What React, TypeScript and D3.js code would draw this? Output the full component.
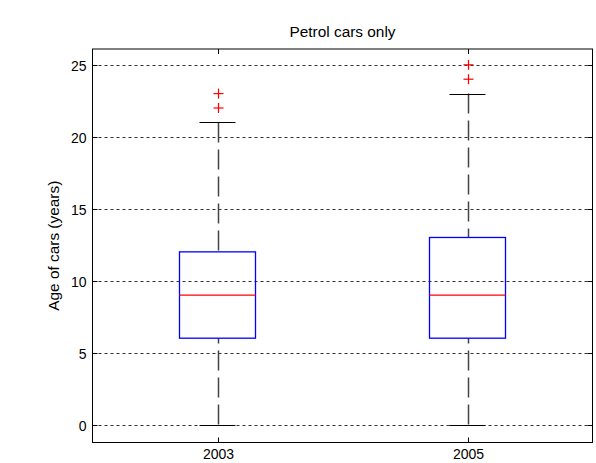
import React from "react";
import * as d3 from "d3";

// Box plot summary per survey year
const years = ["2003", "2005"];
const whiskerLow = [0, 0];
const q1 = [6, 6];
const median = [9, 9];
const q3 = [12, 13];
const whiskerHigh = [21, 23];
const outliers = [
  [22, 23],
  [24, 25],
];
const yTicks = [0, 5, 10, 15, 20, 25];

const W = 596;
const H = 463;
const frame = { left: 92.5, right: 592.5, top: 49, bottom: 442.5 };
const FONT = "Arial, 'Liberation Sans', Helvetica, sans-serif";

export default function App() {
  const x = d3.scaleLinear().domain([0.5, 2.5]).range([frame.left, frame.right]);
  const y = d3.scaleLinear().domain([-1.25, 26.1]).range([frame.bottom, frame.top]);
  const boxHalf = 0.152;
  const capHalf = 0.072;
  const tick = 5;
  const fs = 14;
  const labelFs = 15.4;

  return (
    <svg
      width={W}
      height={H}
      style={{ position: "absolute", left: 0, top: 0, background: "#fff" }}
      fontFamily={FONT}
    >
      <rect x={0} y={0} width={W} height={H} fill="#fff" />
      {/* horizontal grid */}
      {yTicks.map((t) => (
        <line
          key={"g" + t}
          x1={frame.left}
          x2={frame.right}
          y1={Math.round(y(t)) + 0.5}
          y2={Math.round(y(t)) + 0.5}
          stroke="#333"
          strokeWidth={1}
          strokeDasharray="3,3"
        />
      ))}
      {/* frame */}
      <rect
        x={frame.left}
        y={frame.top}
        width={frame.right - frame.left}
        height={frame.bottom - frame.top}
        fill="none"
        stroke="#000"
        strokeWidth={1}
      />
      {/* y ticks (left and right, inward) */}
      {yTicks.map((t) => {
        const yy = Math.round(y(t)) + 0.5;
        return (
          <g key={"yt" + t}>
            <line x1={frame.left} x2={frame.left + tick} y1={yy} y2={yy} stroke="#000" />
            <line x1={frame.right - tick} x2={frame.right} y1={yy} y2={yy} stroke="#000" />
            <text
              x={frame.left - 6}
              y={yy}
              textAnchor="end"
              dominantBaseline="central"
              fontSize={fs}
              fill="#000"
            >
              {t}
            </text>
          </g>
        );
      })}
      {/* x ticks (top and bottom, inward) */}
      {years.map((yr, i) => {
        const xx = Math.round(x(i + 1)) + 0.5;
        return (
          <g key={"xt" + yr}>
            <line x1={xx} x2={xx} y1={frame.bottom} y2={frame.bottom - tick} stroke="#000" />
            <line x1={xx} x2={xx} y1={frame.top} y2={frame.top + tick} stroke="#000" />
            <text x={xx} y={459} textAnchor="middle" fontSize={fs} fill="#000">
              {yr}
            </text>
          </g>
        );
      })}
      {/* boxes */}
      {years.map((yr, i) => {
        const c = i + 1;
        const cx = Math.round(x(c)) + 0.5;
        const x0 = x(c - boxHalf);
        const x1 = x(c + boxHalf);
        return (
          <g key={"b" + yr}>
            {/* whiskers drawn from the extreme toward the box */}
            <line
              x1={cx}
              x2={cx}
              y1={y(whiskerHigh[i])}
              y2={y(q3[i])}
              stroke="#444"
              strokeWidth={1.5}
              strokeDasharray="20,7"
            />
            <line
              x1={cx}
              x2={cx}
              y1={y(whiskerLow[i])}
              y2={y(q1[i])}
              stroke="#444"
              strokeWidth={1.5}
              strokeDasharray="20,7"
            />
            <line
              x1={x(c - capHalf)}
              x2={x(c + capHalf)}
              y1={Math.round(y(whiskerHigh[i])) + 0.5}
              y2={Math.round(y(whiskerHigh[i])) + 0.5}
              stroke="#000"
            />
            <line
              x1={x(c - capHalf)}
              x2={x(c + capHalf)}
              y1={Math.round(y(whiskerLow[i])) + 0.5}
              y2={Math.round(y(whiskerLow[i])) + 0.5}
              stroke="#000"
            />
            <rect
              x={x0}
              y={y(q3[i])}
              width={x1 - x0}
              height={y(q1[i]) - y(q3[i])}
              fill="none"
              stroke="#0000ff"
              strokeWidth={1.3}
            />
            <line
              x1={x0}
              x2={x1}
              y1={y(median[i])}
              y2={y(median[i])}
              stroke="#ff0000"
              strokeWidth={1.2}
            />
            {outliers[i].map((o) => (
              <g key={"o" + o} stroke="#ff0000" strokeWidth={1.2}>
                <line x1={cx - 5} x2={cx + 5} y1={y(o)} y2={y(o)} />
                <line x1={cx} x2={cx} y1={y(o) - 5} y2={y(o) + 5} />
              </g>
            ))}
          </g>
        );
      })}
      {/* title */}
      <text
        x={(frame.left + frame.right) / 2}
        y={37}
        textAnchor="middle"
        fontSize={labelFs}
        fill="#000"
      >
        Petrol cars only
      </text>
      {/* y label */}
      <text
        transform={`translate(59, ${(frame.top + frame.bottom) / 2}) rotate(-90)`}
        textAnchor="middle"
        fontSize={labelFs}
        fill="#000"
      >
        Age of cars (years)
      </text>
    </svg>
  );
}
